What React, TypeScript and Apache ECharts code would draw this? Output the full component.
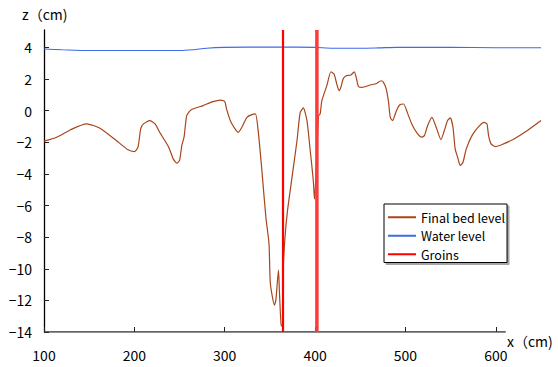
import React, { useEffect, useRef } from "react";
import * as echarts from "echarts";

const bedX = [100,114,129,147,162,180,193,200,204,207,210,217,223,228,238,243,247,250,252.5,255,258,263,276,287,295,300,302,307,315,319,324.5,330,334,337,341,345.5,349,350.5,355,356.6,359.5,360.6,362.4,364,364.8,366.7,369.5,374,380,383.5,387,391,394.6,398,399.3,403.8,405.6,407.5,413,417.5,421,424,426.6,428.5,431,434.4,439.6,443.3,445.5,448,452,461,468,473,475.7,478.7,481.3,483.2,485.7,490,493.5,498,502,507,512.7,518,521,524.5,529.3,534,539.3,543,546.6,549.6,552.6,555,557.7,560.7,563.7,567.3,573.6,581,587.3,590.2,592,594.7,599.4,607,620,635,650];
const bedZ = [-1.93,-1.68,-1.22,-0.84,-1.11,-1.89,-2.48,-2.59,-2.31,-1.16,-0.84,-0.63,-0.84,-1.37,-2.31,-3.05,-3.32,-3.15,-2.2,-1.68,-0.3,0.06,0.32,0.57,0.67,0.59,0.11,-0.74,-1.37,-1.05,-0.42,-0.25,-0.21,-1.26,-3.7,-6.73,-8.41,-10.93,-12.3,-11.98,-10.09,-11.56,-13.56,-13.66,-10.0,-8.0,-6.31,-4.41,-1.89,-0.11,0.17,-0.63,-2.52,-4.41,-5.6,-0.32,-0.21,0.63,1.58,2.46,2.31,1.68,1.26,1.47,2.0,2.21,2.25,2.46,2.1,1.53,1.47,1.62,1.72,1.89,1.79,1.37,0.53,-0.42,-0.63,0.0,0.36,0.42,-0.11,-0.84,-1.41,-1.68,-1.58,-0.95,-0.42,-1.05,-1.83,-1.26,-0.63,-0.46,-1.05,-2.42,-2.94,-3.47,-3.26,-2.42,-1.58,-1.01,-0.74,-0.84,-1.58,-2.1,-2.27,-2.14,-1.79,-1.26,-0.63];

const waterX = [100,120,150,200,250,265,280,300,350,380,400,420,450,470,490,550,600,650];
const waterZ = [3.9,3.85,3.8,3.8,3.8,3.85,3.95,4.0,4.02,4.02,4.0,3.95,3.95,3.97,4.0,4.0,3.98,3.98];

const groinX = [364.5, 402];
const zMin = -14;
const zMax = 5.1;
const xMin = 100;
const xMax = 650;
const xAxisEnd = 611;

const xTicks = [100, 200, 300, 400, 500, 600];
const yTicks = [-14, -12, -10, -8, -6, -4, -2, 0, 2, 4];

const FONT = "'Noto Sans CJK JP', 'Liberation Sans', sans-serif";

const fmt = (v: number) => (v < 0 ? "\u2212" + Math.abs(v) : String(v));

export default function App() {
  const ref = useRef<HTMLDivElement>(null);
  useEffect(() => {
    if (!ref.current) return;
    const chart = echarts.init(ref.current, undefined, { renderer: "svg" });
    const bedData = bedX.map((x, i) => [x, bedZ[i]]);
    const waterData = waterX.map((x, i) => [x, waterZ[i]]);
    chart.setOption({
      animation: false,
      backgroundColor: "#fff",
      grid: { left: 44, right: 17, top: 30, bottom: 35 },
      xAxis: {
        type: "value",
        min: xMin,
        max: xMax,
        axisLine: { show: false, onZero: false },
        axisTick: { show: true, inside: true, length: 5, customValues: xTicks, lineStyle: { color: "#222" } },
        axisLabel: { customValues: xTicks, margin: 16, fontSize: 14, color: "#000", fontFamily: FONT, formatter: fmt },
        splitLine: { show: false },
      },
      yAxis: {
        type: "value",
        min: zMin,
        max: zMax,
        axisLine: { show: true, onZero: false, lineStyle: { color: "#000", width: 1.3 } },
        axisTick: { show: true, inside: true, length: 5, customValues: yTicks, lineStyle: { color: "#222" } },
        axisLabel: { customValues: yTicks, margin: 12, fontSize: 14, color: "#000", fontFamily: FONT, formatter: fmt },
        splitLine: { show: false },
      },
      legend: {
        orient: "vertical",
        left: 384,
        top: 204,
        data: ["Final bed level", "Water level", "Groins"],
        backgroundColor: "#fff",
        borderColor: "#000",
        borderWidth: 1,
        borderRadius: 0,
        padding: [7, 2, 2, 3],
        itemGap: 6,
        itemWidth: 28,
        itemHeight: 14,
        itemStyle: { opacity: 0, borderWidth: 0 },
        shadowColor: "rgba(0,0,0,0.35)",
        shadowOffsetX: 2,
        shadowOffsetY: 2,
        shadowBlur: 0,
        textStyle: { fontSize: 12.5, color: "#000", fontFamily: FONT },
      },
      graphic: [
        { type: "text", left: 22, top: 7, style: { text: "z\uFF08cm)", fill: "#000", font: "14px " + FONT } },
        { type: "text", left: 507, top: 334, style: { text: "x\uFF08cm)", fill: "#000", font: "14px " + FONT } },
      ],
      series: [
        {
          name: "xAxisLine",
          type: "line",
          data: [[xMin, zMin], [xAxisEnd, zMin]],
          symbol: "none",
          silent: true,
          lineStyle: { color: "#333", width: 1.5 },
          z: 1,
        },
        {
          name: "Final bed level",
          type: "line",
          data: bedData,
          symbol: "none",
          smooth: 0.2,
          lineStyle: { color: "#A8451A", width: 1.2 },
          itemStyle: { color: "#A8451A" },
          z: 3,
        },
        {
          name: "Water level",
          type: "line",
          data: waterData,
          symbol: "none",
          smooth: 0.3,
          lineStyle: { color: "#3F6AE8", width: 1.1 },
          itemStyle: { color: "#6F95F5" },
          z: 3,
        },
        {
          name: "Groins",
          type: "line",
          data: [[groinX[0], zMin], [groinX[0], zMax]],
          symbol: "none",
          lineStyle: { color: "#FF0000", width: 2.2 },
          itemStyle: { color: "#FF0000" },
          z: 4,
        },
        {
          name: "Groins",
          type: "line",
          data: [[groinX[1], zMin], [groinX[1], zMax]],
          symbol: "none",
          lineStyle: { color: "#FF3A3A", width: 3.5 },
          itemStyle: { color: "#FF0000" },
          z: 4,
        },
      ],
    });
    return () => chart.dispose();
  }, []);
  return <div ref={ref} style={{ width: 558, height: 367, position: "absolute", left: 0, top: 0 }} />;
}
